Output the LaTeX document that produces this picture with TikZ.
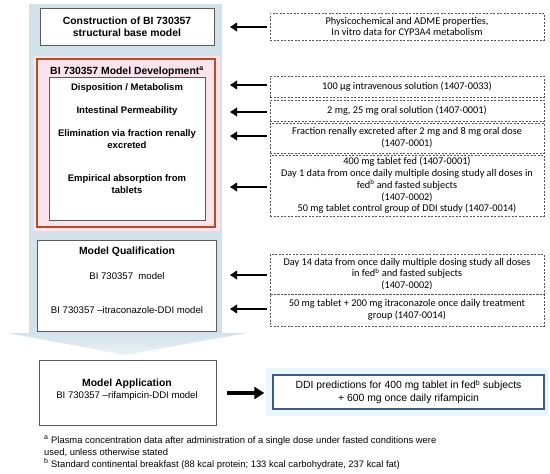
\documentclass[tikz,border=0pt]{standalone}
\usepackage{fontspec}
\setmainfont{Liberation Sans}
\newfontfamily\calfont{Carlito}
\usetikzlibrary{arrows.meta}
\definecolor{bandblue}{HTML}{D3E2EA}
\definecolor{bandlight}{HTML}{EAF2F6}
\definecolor{pinkglow}{HTML}{FBE2EB}
\definecolor{redbrown}{HTML}{B0502A}
\definecolor{boxgray}{HTML}{5A5A5A}
\definecolor{dashgray}{HTML}{555555}
\definecolor{ddiblue}{HTML}{3E5C7C}
\definecolor{cyanglow}{HTML}{EAF8FB}
\tikzset{
  solidbox/.style={draw=boxgray, line width=0.8pt, fill=white, inner sep=0pt},
  dbox/.style={draw=dashgray, line width=0.6pt, dash pattern=on 2pt off 1.5pt, inner sep=0pt, minimum width=274pt},
  rtext/.style={font=\calfont\fontsize{10.3}{11.8}\selectfont, align=center, inner sep=0pt},
  btitle/.style={font=\bfseries\fontsize{10.4}{12}\selectfont, align=center, inner sep=0pt},
  bitem/.style={font=\bfseries\fontsize{9.5}{12}\selectfont, align=center, inner sep=0pt},
  ltext/.style={font=\fontsize{9.6}{11.5}\selectfont, align=center, inner sep=0pt},
  arr/.style={line width=2.4pt, -{Triangle[length=7pt,width=8.5pt]}},
  bigarr/.style={line width=4pt, -{Triangle[length=10pt,width=12pt]}},
  fnote/.style={font=\fontsize{9.4}{12}\selectfont, align=left, inner sep=0pt, anchor=base west}
}
\begin{document}
\begin{tikzpicture}[x=1pt,y=-1pt]
\useasboundingbox (0,0) rectangle (550,474);
% background band with arrow head
\fill[bandblue] (29,4) rectangle (222,333);
\shade[top color=bandblue, bottom color=bandlight] (8,333) -- (247,333) -- (125,355) -- cycle;
% pink glow and red box
\fill[pinkglow] (33,56) rectangle (220,231);
\node[draw=redbrown, line width=1.3pt, minimum width=178pt, minimum height=168pt, inner sep=0pt] (dev) at (126,143) {};
% left boxes
\node[solidbox, minimum width=174pt, minimum height=37pt] (cons) at (127,26.5) {};
\node[btitle] (consT) at (127,27) {Construction of BI 730357\\structural base model};
\node[btitle, anchor=base] (devT) at (127,74) {BI 730357 Model Development\textsuperscript{\scriptsize a}};
\node[solidbox, minimum width=156pt, minimum height=143pt] (inner) at (127,148.5) {};
\node[bitem, anchor=base] (disp) at (127,90) {Disposition / Metabolism};
\node[bitem, anchor=base] (perm) at (127,113) {Intestinal Permeability};
\node[bitem, anchor=base] (elim) at (127,148) {Elimination via fraction renally\\excreted};
\node[bitem, anchor=base] (emp) at (127,193) {Empirical absorption from\\tablets};
\node[solidbox, minimum width=179pt, minimum height=91pt] (qual) at (126.5,285.5) {};
\node[btitle, anchor=base] (qualT) at (127,254) {Model Qualification};
\node[ltext, anchor=base] (qual1) at (127,279) {BI 730357\ \ model};
\node[ltext, anchor=base] (qual2) at (127,313) {BI 730357 --itraconazole-DDI model};
\node[solidbox, minimum width=177pt, minimum height=65pt] (app) at (127.5,392.5) {};
\node[btitle, anchor=base] (appT) at (127,386) {Model Application};
\node[ltext, anchor=base] (app1) at (127,398) {BI 730357 --rifampicin-DDI model};
% right dashed boxes
\node[dbox, minimum height=27pt] (b1) at (407,26.5) {};
\node[rtext] at (b1) {Physicochemical and ADME properties,\\In vitro data for CYP3A4 metabolism};
\node[dbox, minimum height=21pt] (b2) at (407,86.5) {};
\node[rtext] at (b2) {100 µg intravenous solution (1407-0033)};
\node[dbox, minimum height=21pt] (b3) at (407,110.5) {};
\node[rtext] at (b3) {2 mg, 25 mg oral solution (1407-0001)};
\node[dbox, minimum height=30pt] (b4) at (407,138) {};
\node[rtext] at (b4) {Fraction renally excreted after 2 mg and 8 mg oral dose\\(1407-0001)};
\node[dbox, minimum height=61pt] (b5) at (407,185.5) {};
\node[rtext] at (b5) {400 mg tablet fed (1407-0001)\\Day 1 data from once daily multiple dosing study all doses in\\fed\textsuperscript{\scriptsize b} and fasted subjects\\(1407-0002)\\50 mg tablet control group of DDI study (1407-0014)};
\node[dbox, minimum height=40pt] (b6) at (407,274) {};
\node[rtext] at (b6) {Day 14 data from once daily multiple dosing study all doses\\in fed\textsuperscript{\scriptsize b} and fasted subjects\\(1407-0002)};
\node[dbox, minimum height=32pt] (b7) at (407,310) {};
\node[rtext] at (b7) {50 mg tablet + 200 mg itraconazole once daily treatment\\group (1407-0014)};
% DDI prediction box
\fill[cyanglow] (266,368) rectangle (548,416);
\node[draw=ddiblue, line width=1.4pt, fill=white, minimum width=271pt, minimum height=34pt, inner sep=0pt] (ddi) at (408.5,392) {};
\node[font=\fontsize{10.4}{13}\selectfont, align=center, inner sep=0pt] at (ddi) {DDI predictions for 400 mg tablet in fed\textsuperscript{\scriptsize b} subjects\\+ 600 mg once daily rifampicin};
% arrow end points
\coordinate (t1) at (230,27);
\coordinate (t2) at (230,85);
\coordinate (t3) at (230,112);
\coordinate (t4) at (230,136);
\coordinate (t5) at (230,187);
\coordinate (t6) at (230,275);
\coordinate (t7) at (230,309);
\draw[arr] ([xshift=-3pt]b1.west |- t1) -- (t1);
\draw[arr] ([xshift=-3pt]b2.west |- t2) -- (t2);
\draw[arr] ([xshift=-3pt]b3.west |- t3) -- (t3);
\draw[arr] ([xshift=-3pt]b4.west |- t4) -- (t4);
\draw[arr] ([xshift=-3pt]b5.west |- t5) -- (t5);
\draw[arr] ([xshift=-3pt]b6.west |- t6) -- (t6);
\draw[arr] ([xshift=-3pt]b7.west |- t7) -- (t7);
\coordinate (s8) at (227,393);
\draw[bigarr] (s8) -- ([xshift=-8pt]ddi.west |- s8);
% footnotes
\node[fnote] (fa) at (44,443) {\textsuperscript{\scriptsize a} Plasma concentration data after administration of a single dose under fasted conditions were};
\node[fnote] (fa2) at (44,455) {used, unless otherwise stated};
\node[fnote] (fb) at (44,467) {\textsuperscript{\scriptsize b} Standard continental breakfast (88 kcal protein; 133 kcal carbohydrate, 237 kcal fat)};
\end{tikzpicture}
\end{document}
